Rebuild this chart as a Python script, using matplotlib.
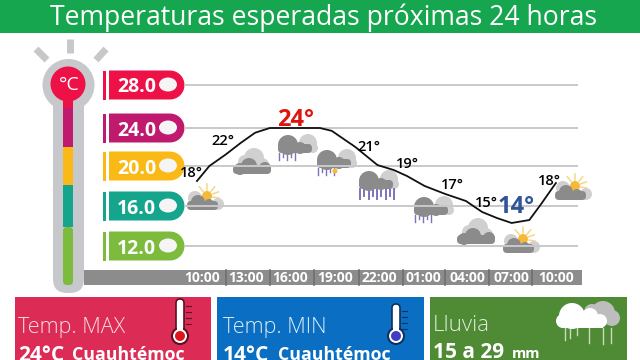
import numpy as np
from matplotlib import pyplot as plt
from matplotlib.patches import Circle, Ellipse, FancyBboxPatch, Polygon, Rectangle

plt.rcParams['font.family'] = ['Open Sans', 'DejaVu Sans']

title = 'Temperaturas esperadas próximas 24 horas'

# eje de temperatura (no es del todo lineal en la imagen)
temp_ticks = [12, 16, 20, 24, 28]
tag_colors = ['#7cbb3c', '#14a58c', '#fbb917', '#c01a6e', '#ee1148']

# curva
line_hours = [-0.34, 0.5, 1.6, 2.6, 3.6, 4.6, 6.5, 8.0, 8.8, 10.4, 11.9, 13.0, 13.9, 15.1, 16.5, 17.9, 19.0, 20.0, 21.0, 22.2, 23.0, 24.0]
line_temps = [18.5, 20.0, 21.2, 22.4, 23.5, 24.0, 24.0, 24.0, 23.7, 22.0, 20.1, 19.6, 19.0, 18.0, 17.2, 16.5, 15.4, 14.8, 14.3, 14.6, 16.2, 18.3]

hour_ticks = [0, 3, 6, 9, 12, 15, 18, 21, 24]
hour_labels = ['10:00', '13:00', '16:00', '19:00', '22:00', '01:00', '04:00', '07:00', '10:00']

# etiquetas de temperatura: hora, temperatura, texto
label_hours = [-0.75, 1.4, 6.35, 11.35, 13.9, 16.95, 19.3, 21.3, 23.55]
label_temps = [19.3, 22.6, 24.7, 22.0, 20.2, 18.1, 16.3, 15.9, 18.5]
label_texts = ['18°', '22°', '24°', '21°', '19°', '17°', '15°', '14°', '18°']
label_colors = ['black', 'black', '#e0140f', 'black', 'black', 'black', 'black', '#2f5597', 'black']
label_sizes = [10.5, 10.5, 17, 10.5, 10.5, 10.5, 10.5, 17, 10.5]

# iconos: x, y en pixeles, tipo
icons = [(204, 201, 'sun'), (252, 164, 'cloud'), (297, 148, 'rain'), (336, 163, 'rain_sun'), (378, 184, 'heavy'),
         (433, 210, 'rain'), (476, 234, 'cloud'), (520, 244, 'sun'), (572, 191, 'sun')]

DARK = '#8b8b8b'
LIGHT = '#d0d0d0'


def temp_to_px(v):
    return np.interp(v, [0, 12, 16, 20, 24, 28, 40], [-366, -246, -206, -166, -128, -85, 35])


def px_to_temp(v):
    return np.interp(v, [-366, -246, -206, -166, -128, -85, 35], [0, 12, 16, 20, 24, 28, 40])


def blobs(ax, items, color, z):
    for cx, cy, r in items:
        ax.add_patch(Circle((cx, cy), r, fc=color, ec='none', zorder=z))


def base(ax, x0, x1, y0, y1, color, z):
    ax.add_patch(FancyBboxPatch((x0, y0), x1 - x0, y1 - y0, boxstyle='round,pad=0,rounding_size=4', fc=color, ec='none', zorder=z))


def draw_cloud(ax, x, y, kind):
    if kind == 'cloud':
        blobs(ax, [(x - 7, y - 2, 7), (x + 2, y - 6, 10), (x + 10, y + 1, 7)], LIGHT, 3)
        blobs(ax, [(x - 12, y + 5, 6), (x - 3, y + 2, 8), (x + 13, y + 4, 6)], DARK, 4)
        base(ax, x - 19, x + 19, y + 1, y + 10, DARK, 4)
    elif kind == 'sun':
        sx, sy = x + 3, y - 5
        for a in np.deg2rad([-10, 20, 50, 90, 130]):
            ax.plot([sx + 6 * np.cos(a), sx + 12 * np.cos(a)], [sy - 6 * np.sin(a), sy - 12 * np.sin(a)],
                    color='#f3d78a', lw=1.1, zorder=3)
        blobs(ax, [(x - 9, y - 3, 7), (x + 14, y + 3, 6)], LIGHT, 3)
        blobs(ax, [(sx, sy, 5)], '#f5b93a', 4)
        blobs(ax, [(x - 6, y + 1, 7), (x + 5, y + 3, 5)], DARK, 5)
        base(ax, x - 17, x + 14, y, y + 9, DARK, 5)
    else:
        blobs(ax, [(x + 11, y - 5, 9), (x + 16, y, 5)], LIGHT, 3)
        blobs(ax, [(x - 9, y - 3, 10), (x + 3, y, 6)], DARK, 4)
        base(ax, x - 19, x + 15, y - 4, y + 5, DARK, 4)
        n = 9 if kind == 'heavy' else 5
        ln = 10 if kind == 'heavy' else 7
        lw = 1.4 if kind == 'heavy' else 1
        for i, dx in enumerate(np.linspace(-18, 16 if kind == 'heavy' else -2, n)):
            ax.plot([x + dx, x + dx], [y + 5, y + 5 + ln - 3 * (i % 2)], color='#7b74bd', lw=lw, zorder=3)
        if kind == 'rain_sun':
            blobs(ax, [(x - 1, y + 8, 2.5)], '#f5b93a', 5)


def draw_thermo(ax, x, top, bulb_y, edge, bulb):
    ax.add_patch(FancyBboxPatch((x - 4, top), 8, bulb_y - top, boxstyle='round,pad=0,rounding_size=4', fc='white', ec=edge, lw=1.2, zorder=3))
    ax.add_patch(Circle((x, bulb_y), 8, fc='white', ec=edge, lw=1.5, zorder=3))
    ax.add_patch(Rectangle((x - 3, bulb_y - 9), 6, 9, fc='white', ec='none', zorder=4))
    ax.add_patch(Circle((x, bulb_y), 5, fc=bulb, ec='none', zorder=5))
    for k in range(4):
        ax.plot([x + 6, x + 11], [top + 7 + k * 6, top + 7 + k * 6], color=edge, lw=0.8, zorder=3)


fig = plt.figure(figsize=(6.4, 3.6), dpi=100)

# fondo en pixeles
bg = fig.add_axes([0, 0, 1, 1])
bg.set_xlim(0, 640)
bg.set_ylim(360, 0)
bg.axis('off')

bg.add_patch(Rectangle((0, 0), 640, 33, fc='#17a650', ec='none'))
bg.text(324, 18, title, color='white', fontsize=19.1, ha='center', va='center', zorder=5)

# termometro grande
for xa, xb, ya, yb in [(70, 70, 39, 53), (36, 47, 49, 60), (106, 96, 49, 60)]:
    bg.plot([xa, xb], [ya, yb], color='#c6c8ca', lw=5, solid_capstyle='butt')
bg.add_patch(Circle((68.5, 85), 26, fc='#c6c8cb', ec='none'))
bg.add_patch(FancyBboxPatch((53, 85), 31, 208, boxstyle='round,pad=0,rounding_size=14', fc='#c6c8cb', ec='none'))
bg.add_patch(Circle((68, 84), 17.5, fc='#ee1148', ec='none', zorder=3))
bg.text(69, 85, '°C', color='white', fontsize=14, ha='center', va='center', zorder=4)
bg.add_patch(Rectangle((63, 95), 10, 13, fc='#ee1148', ec='none', zorder=2))
bg.add_patch(Rectangle((63, 108), 10, 39, fc='#c01a6e', ec='none', zorder=2))
bg.add_patch(Rectangle((63, 147), 10, 38, fc='#fbb917', ec='none', zorder=2))
bg.add_patch(Rectangle((63, 185), 10, 42, fc='#14a58c', ec='none', zorder=2))
bg.add_patch(FancyBboxPatch((63, 227), 10, 58, boxstyle='round,pad=0,rounding_size=4', fc='#7cbb3c', ec='none', zorder=2))

# banda de horas
bg.add_patch(Rectangle((84, 270), 498, 15, fc='#8c8c8c', ec='none'))
for sx in [226, 270, 314, 359, 403, 445, 489, 532]:
    bg.plot([sx, sx], [270, 285], color='#6e6e6e', lw=1.2)

# etiquetas de colores
for t, c in zip(temp_ticks, tag_colors):
    cy = -float(temp_to_px(t))
    bg.add_patch(Rectangle((102.5, cy - 14.5), 3, 29, fc=c, ec='none'))
    xs = [109, 170] + [170 + 14.5 * np.cos(a) for a in np.linspace(np.pi / 2, -np.pi / 2, 20)][1:-1] + [170, 109]
    ys = [cy - 14.5, cy - 14.5] + [cy - 14.5 * np.sin(a) for a in np.linspace(np.pi / 2, -np.pi / 2, 20)][1:-1] + [cy + 14.5, cy + 14.5]
    bg.add_patch(Polygon(np.column_stack([xs, ys]), closed=True, fc=c, ec='none'))
    bg.add_patch(Ellipse((168, cy - 0.5), 18, 14, fc='#f5f5f5', ec='none', zorder=3))

# paneles de abajo
bg.add_patch(Rectangle((15, 297), 196, 63, fc='#dc2c56', ec='none'))
bg.add_patch(Rectangle((217, 297), 207, 63, fc='#0a6fc2', ec='none'))
bg.add_patch(Rectangle((430, 297), 197, 63, fc='#4f8a35', ec='none'))

bg.text(18, 333, 'Temp. MAX', color='#f6dbe1', fontsize=15.5, fontweight='light', va='baseline')
bg.text(18, 361, '24°C', color='white', fontsize=15, fontweight='bold', va='baseline')
bg.text(72, 360, 'Cuauhtémoc', color='white', fontsize=12.8, fontweight='bold', va='baseline')
bg.text(223, 333, 'Temp. MIN', color='#dcebf7', fontsize=15.5, fontweight='light', va='baseline')
bg.text(223, 361, '14°C', color='white', fontsize=15, fontweight='bold', va='baseline')
bg.text(278, 360, 'Cuauhtémoc', color='white', fontsize=12.8, fontweight='bold', va='baseline')
bg.text(433, 331, 'Lluvia', color='#e4eedd', fontsize=16, fontweight='light', va='baseline')
bg.text(433, 358, '15 a 29', color='white', fontsize=15, fontweight='bold', va='baseline')
bg.text(512, 358, 'mm', color='white', fontsize=10.5, fontweight='bold', va='baseline')

draw_thermo(bg, 180, 299, 336, '#5b1024', '#e0141e')
draw_thermo(bg, 396, 304, 336, '#10305e', '#3f3fc4')

# nube de lluvia del panel verde
blobs(bg, [(603, 313, 12), (592, 312, 8), (612, 318, 8)], '#bdbdbd', 2)
blobs(bg, [(572, 316, 13), (563, 321, 7), (590, 316, 8), (600, 321, 7)], 'white', 3)
bg.add_patch(Rectangle((561, 318), 42, 10, fc='white', ec='none', zorder=3))
for dx, y2 in [(565, 340), (570, 338), (577, 335), (589, 343), (603, 344), (611, 343)]:
    bg.plot([dx, dx], [328, y2], color='#c9dcbc', lw=1)

for x, y, kind in icons:
    draw_cloud(bg, x, y, kind)

# grafica: de pixel x 184 a 578 y de pixel y 50 a 270
ax = fig.add_axes([184 / 640, 1 - 270 / 360, 394 / 640, 220 / 360], zorder=2)
ax.patch.set_alpha(0)
ax.set_yscale('function', functions=(temp_to_px, px_to_temp))
ax.set_xlim(-1.22, 25.5)
ax.set_ylim(float(px_to_temp(-270)), float(px_to_temp(-50)))
for s in ax.spines.values():
    s.set_visible(False)

ax.set_yticks(temp_ticks)
ax.set_yticklabels(['%.1f' % t for t in temp_ticks], color='white', fontsize=14, fontweight='bold')
ax.tick_params(axis='y', length=0, pad=20)
ax.set_xticks(hour_ticks)
ax.set_xticklabels(hour_labels, color='white', fontsize=10, fontweight='bold')
ax.tick_params(axis='x', length=0, pad=1)
ax.yaxis.grid(True, color='#c9c9c9', lw=1.4, zorder=0)
ax.set_axisbelow(True)

ax.plot(line_hours, line_temps, color='#111111', lw=1.3, zorder=6)
for h, t, s, c, fs in zip(label_hours, label_temps, label_texts, label_colors, label_sizes):
    ax.text(h, t, s, color=c, fontsize=fs, fontweight='bold' if fs > 12 else 'semibold', ha='center', va='center', zorder=7)

fig.savefig('out.png', dpi=100)
